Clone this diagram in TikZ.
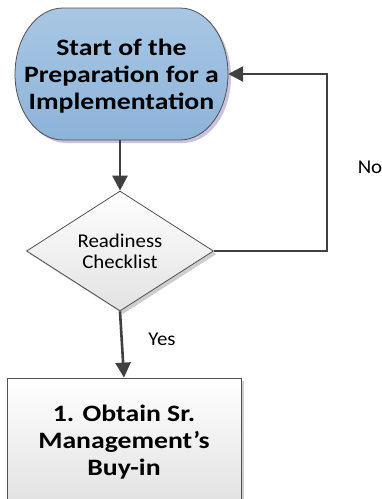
\documentclass[tikz,border=0pt]{standalone}
\usepackage{fontspec}
\setmainfont{Carlito}
\newfontfamily\wideb{Carlito}[FakeStretch=1.18]
\newfontfamily\wider{Carlito}[FakeStretch=1.07]
\usetikzlibrary{arrows.meta,shapes.geometric,shadows}
\definecolor{conncol}{HTML}{404040}
\definecolor{edgecol}{HTML}{505050}
\definecolor{blueT}{HTML}{A9C7E4}
\definecolor{blueB}{HTML}{8DB3D9}
\definecolor{shadowP}{HTML}{CBC3DE}
\definecolor{shadowG}{HTML}{CDCDCD}
\definecolor{grayB}{HTML}{E2E2E2}
\begin{document}
\begin{tikzpicture}[x=1pt,y=1pt,
  connector/.style={draw=conncol, line width=2.6pt, -{Triangle[length=15pt,width=15pt]}},
  boldtext/.style={font=\wideb\fontsize{23.5}{27}\selectfont\bfseries, align=center},
  lbl/.style={font=\wider\fontsize{19.5}{21}\selectfont},
  myshadow/.style={drop shadow={shadow xshift=3pt,shadow yshift=-3pt,fill=shadowG,opacity=1}}]
\useasboundingbox (0,0) rectangle (382,-499);
\clip (0,0) rectangle (382,-499);
% terminal shadow
\begin{scope}[shift={(3,-3)}]
\fill[shadowP] (63,-8) -- (180,-8) arc[start angle=90,end angle=-90,x radius=48,y radius=66] -- (63,-140) arc[start angle=270,end angle=90,x radius=48,y radius=66] -- cycle;
\end{scope}
% terminal body
\path[top color=blueT, bottom color=blueB, draw=edgecol, line width=0.8pt] (63,-8) -- (180,-8) arc[start angle=90,end angle=-90,x radius=48,y radius=66] -- (63,-140) arc[start angle=270,end angle=90,x radius=48,y radius=66] -- cycle;
\node[boldtext, minimum width=213, minimum height=132, inner sep=0] (start) at (121.5,-74) {};
\node[boldtext, inner sep=0] (starttext) at (121.5,-76) {Start of the\\Preparation for a\\Implementation};
% decision
\node[diamond, draw=edgecol, line width=0.8pt, top color=white, bottom color=grayB, minimum width=187, minimum height=120, inner sep=0, myshadow,
  label={[lbl, align=center]center:{Readiness\\Checklist}}] (dia) at (120,-251) {};
% process box
\node[draw=edgecol, line width=0.8pt, top color=white, bottom color=grayB, minimum width=234, minimum height=124, inner sep=0, myshadow] (obtain) at (124,-440) {};
\node[boldtext, inner sep=0] (obtaintext) at (124,-442) {1. Obtain Sr.\\Management’s\\Buy-in};
% connectors
\draw[connector] (start.south -| dia.north) -- (dia.north);
\draw[connector] (dia.south) -- (obtain.north);
\draw[connector] (dia.east) -- ++(113,0) |- (start.east);
% labels
\node[lbl] (no) at (370,-167) {No};
\node[lbl] (yes) at (162,-339) {Yes};
\end{tikzpicture}
\end{document}
